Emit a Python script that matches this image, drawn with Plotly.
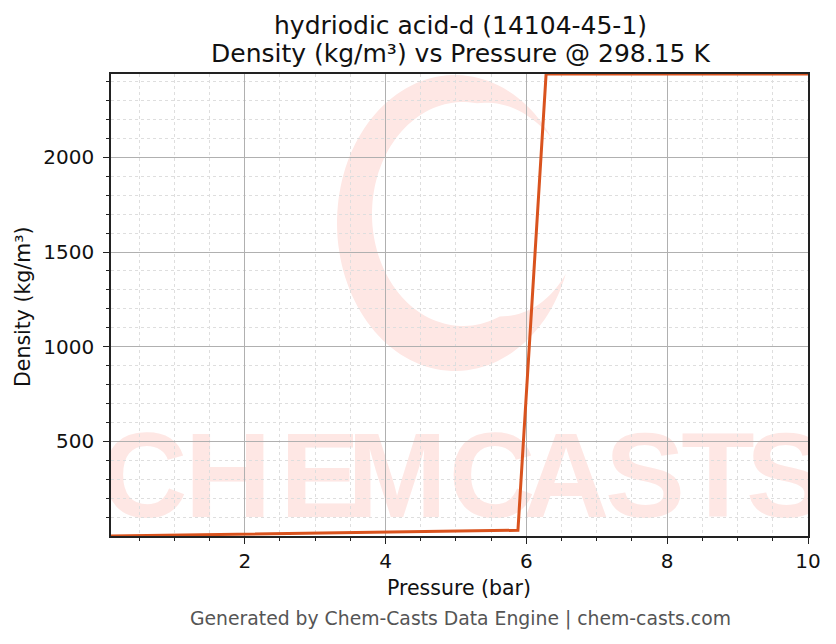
import numpy as np
import plotly.graph_objects as go

# --- data ---
pressure_bar = [0.1, 2.0, 4.0, 5.88, 6.28, 8.0, 10.0]
density_kgm3 = [0.52, 10.5, 21.0, 30.9, 2440.0, 2440.0, 2440.0]

x_ticks = [2, 4, 6, 8, 10]
y_ticks = [500, 1000, 1500, 2000]

title_lines = ["hydriodic acid-d (14104-45-1)", "Density (kg/m³) vs Pressure @ 298.15 K"]
x_label = "Pressure (bar)"
y_label = "Density (kg/m³)"
footer = "Generated by Chem-Casts Data Engine | chem-casts.com"

watermark = "CHEMCASTS"
watermark_px = [144, 228, 320, 397, 492, 566, 645, 718, 786]  # letter centres

W, H = 836, 644
L, R, T, B = 111, 28, 74, 108
pw, ph = W - L - R, H - T - B
WM = "rgb(254,231,228)"
FONT = "DejaVu Sans"


def to_paper(px, py):
    return (px - L) / pw, (H - B - py) / ph


# --- watermark logo: ring open to the right, tips tapered ---
def ring(outer, inner, a0, a1, n=120):
    (ocx, ocy, orx, ory), (icx, icy, irx, iry) = outer, inner
    ang = np.radians(np.linspace(a0, a1, n))
    taper = np.clip(np.sin(np.linspace(0, np.pi, n)) * 2.2, 0, 1)
    out_pts, in_pts = [], []
    for a, t in zip(ang, taper):
        ox, oy = ocx + orx * np.cos(a), ocy - ory * np.sin(a)
        ix, iy = icx + irx * np.cos(a), icy - iry * np.sin(a)
        out_pts.append((ox, oy))
        in_pts.append((ox + (ix - ox) * t, oy + (iy - oy) * t))
    pts = out_pts + in_pts[::-1]
    segs = []
    for i, (px, py) in enumerate(pts):
        u, v = to_paper(px, py)
        segs.append(("M" if i == 0 else "L") + f"{u:.4f},{v:.4f}")
    return " ".join(segs) + " Z"


fig = go.Figure()

fig.add_trace(
    go.Scatter(
        x=pressure_bar,
        y=density_kgm3,
        mode="lines",
        line=dict(color="#D9531E", width=3),
        showlegend=False,
    )
)

fig.add_shape(
    type="path", path=ring((455, 223, 118, 148), (463, 214, 91, 112), 35, 340),
    xref="paper", yref="paper",
    fillcolor=WM, line=dict(width=0), layer="below",
)

# watermark word, one letter per shape label so it can be packed tighter;
# referenced to the axes so the last letter is clipped at the frame
for ch, px in zip(watermark, watermark_px):
    u, _ = to_paper(px, 0)
    _, v0 = to_paper(0, 513)
    _, v1 = to_paper(0, 415)
    xc = 0.1 + u * 9.9
    fig.add_shape(
        type="rect", xref="x", yref="y",
        x0=xc - 0.35, x1=xc + 0.35, y0=0.52 + v0 * 2439.48, y1=0.52 + v1 * 2439.48,
        line=dict(width=0), fillcolor="rgba(0,0,0,0)", layer="below",
        label=dict(
            text=f"<b>{ch}</b>",
            font=dict(family="Liberation Sans", size=120, color=WM),
            textposition="middle center",
        ),
    )

axis_common = dict(
    showline=True, linecolor="#222", linewidth=1.5, mirror=True,
    ticks="outside", ticklen=6, tickwidth=1.3, tickcolor="#222",
    showgrid=True, gridcolor="#b0b0b0", gridwidth=0.8,
    tickfont=dict(family=FONT, size=20, color="#111"),
    zeroline=False,
)

fig.update_xaxes(
    range=[0.1, 10], tickvals=x_ticks, ticklabelstandoff=0,
    minor=dict(dtick=0.5, tick0=0, ticks="outside", ticklen=3.5, tickcolor="#222",
               showgrid=True, gridcolor="#dedede", griddash="dot", gridwidth=0.7),
    **axis_common,
)
fig.update_yaxes(
    range=[0.52, 2440], tickvals=y_ticks, ticklabelstandoff=5,
    minor=dict(dtick=100, tick0=0, ticks="outside", ticklen=3.5, tickcolor="#222",
               showgrid=True, gridcolor="#dedede", griddash="dot", gridwidth=0.7),
    **axis_common,
)


def label(text, px, py, size, color="#111", angle=0):
    u, v = to_paper(px, py)
    return dict(
        text=text, xref="paper", yref="paper", x=u, y=v,
        xanchor="center", yanchor="middle", showarrow=False, textangle=angle,
        font=dict(family=FONT, size=size, color=color),
    )


fig.update_layout(
    width=W, height=H,
    margin=dict(l=L, r=R, t=T, b=B),
    paper_bgcolor="white", plot_bgcolor="white",
    annotations=[
        label(title_lines[0], 460, 26, 25),
        label(title_lines[1], 460, 54, 25),
        label(x_label, 459, 588, 20.5),
        label(y_label, 23, 307, 20.5, angle=-90),
        label(footer, 460, 619, 18.8, color="#555"),
    ],
)

fig.write_html(
    "out.html",
    config={"displayModeBar": False},
    post_script="document.body.style.margin='0';",
)
